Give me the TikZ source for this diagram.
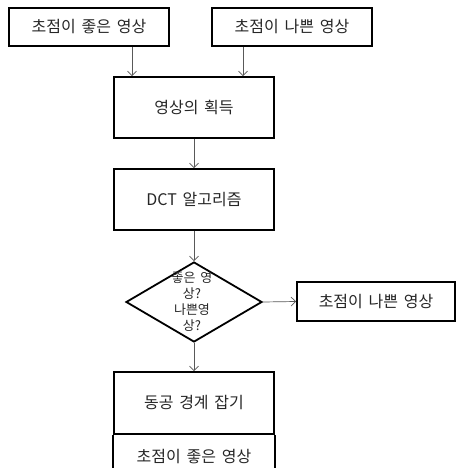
\documentclass[tikz,border=0pt]{standalone}
\usepackage{fontspec}
\setmainfont{Noto Sans CJK KR}[WordSpace=1.6]
\usetikzlibrary{shapes.geometric,arrows.meta}
\begin{document}
\begin{tikzpicture}[x=1pt,y=-1pt,
  box/.style={draw=black,line width=1.8pt,minimum width=160pt,inner sep=0pt,font=\fontsize{16}{18}\selectfont,text=black!85},
  arr/.style={draw=black!65,line width=0.7pt,-{Straight Barb[length=4.5pt,width=9pt]}},
  ln/.style={draw=black,line width=1.8pt}]
\useasboundingbox (0,0) rectangle (456,468);
\clip (0,0) rectangle (456,468);
\node[box,minimum height=38pt] (b1) at (89,27) {초점이 좋은 영상};
\node[box,minimum height=38pt] (b2) at (292,27) {초점이 나쁜 영상};
\node[box,minimum height=61pt] (b3) at (194,107.5) {영상의 획득};
\node[box,minimum height=61pt] (b4) at (194,199.5) {DCT 알고리즘};
\node[draw=black,line width=1.8pt,diamond,minimum width=136pt,minimum height=80pt,inner sep=0pt] (d) at (194,302) {};
\node[align=center,font=\fontsize{13}{16}\selectfont,text=black!85,inner sep=0pt] (dt) at (192,302) {좋은 영\\상?\\나쁜영\\상?};
\node[box,minimum width=158pt,minimum height=39pt] (b5) at (376,301.5) {초점이 나쁜 영상};
\node[box,minimum height=62pt] (b6) at (194,403) {동공 경계 잡기};
\node[box,draw=none,minimum height=42pt,anchor=north] (b7) at (b6.south) {초점이 좋은 영상};
\draw[ln] (b7.north west) -- (b7.south west) -- (b7.south east) -- (b7.north east);
\draw[arr] ([xshift=43pt]b1.south) -- ([xshift=43pt]b1.south |- b3.north);
\draw[arr] ([xshift=-49pt]b2.south) -- ([xshift=-49pt]b2.south |- b3.north);
\draw[arr] (b3.south) -- (b4.north);
\draw[arr] (b4.south) -- (d.north);
\draw[arr] (d.east) -- (b5.west);
\draw[arr] (d.south) -- (b6.north);
\end{tikzpicture}
\end{document}
